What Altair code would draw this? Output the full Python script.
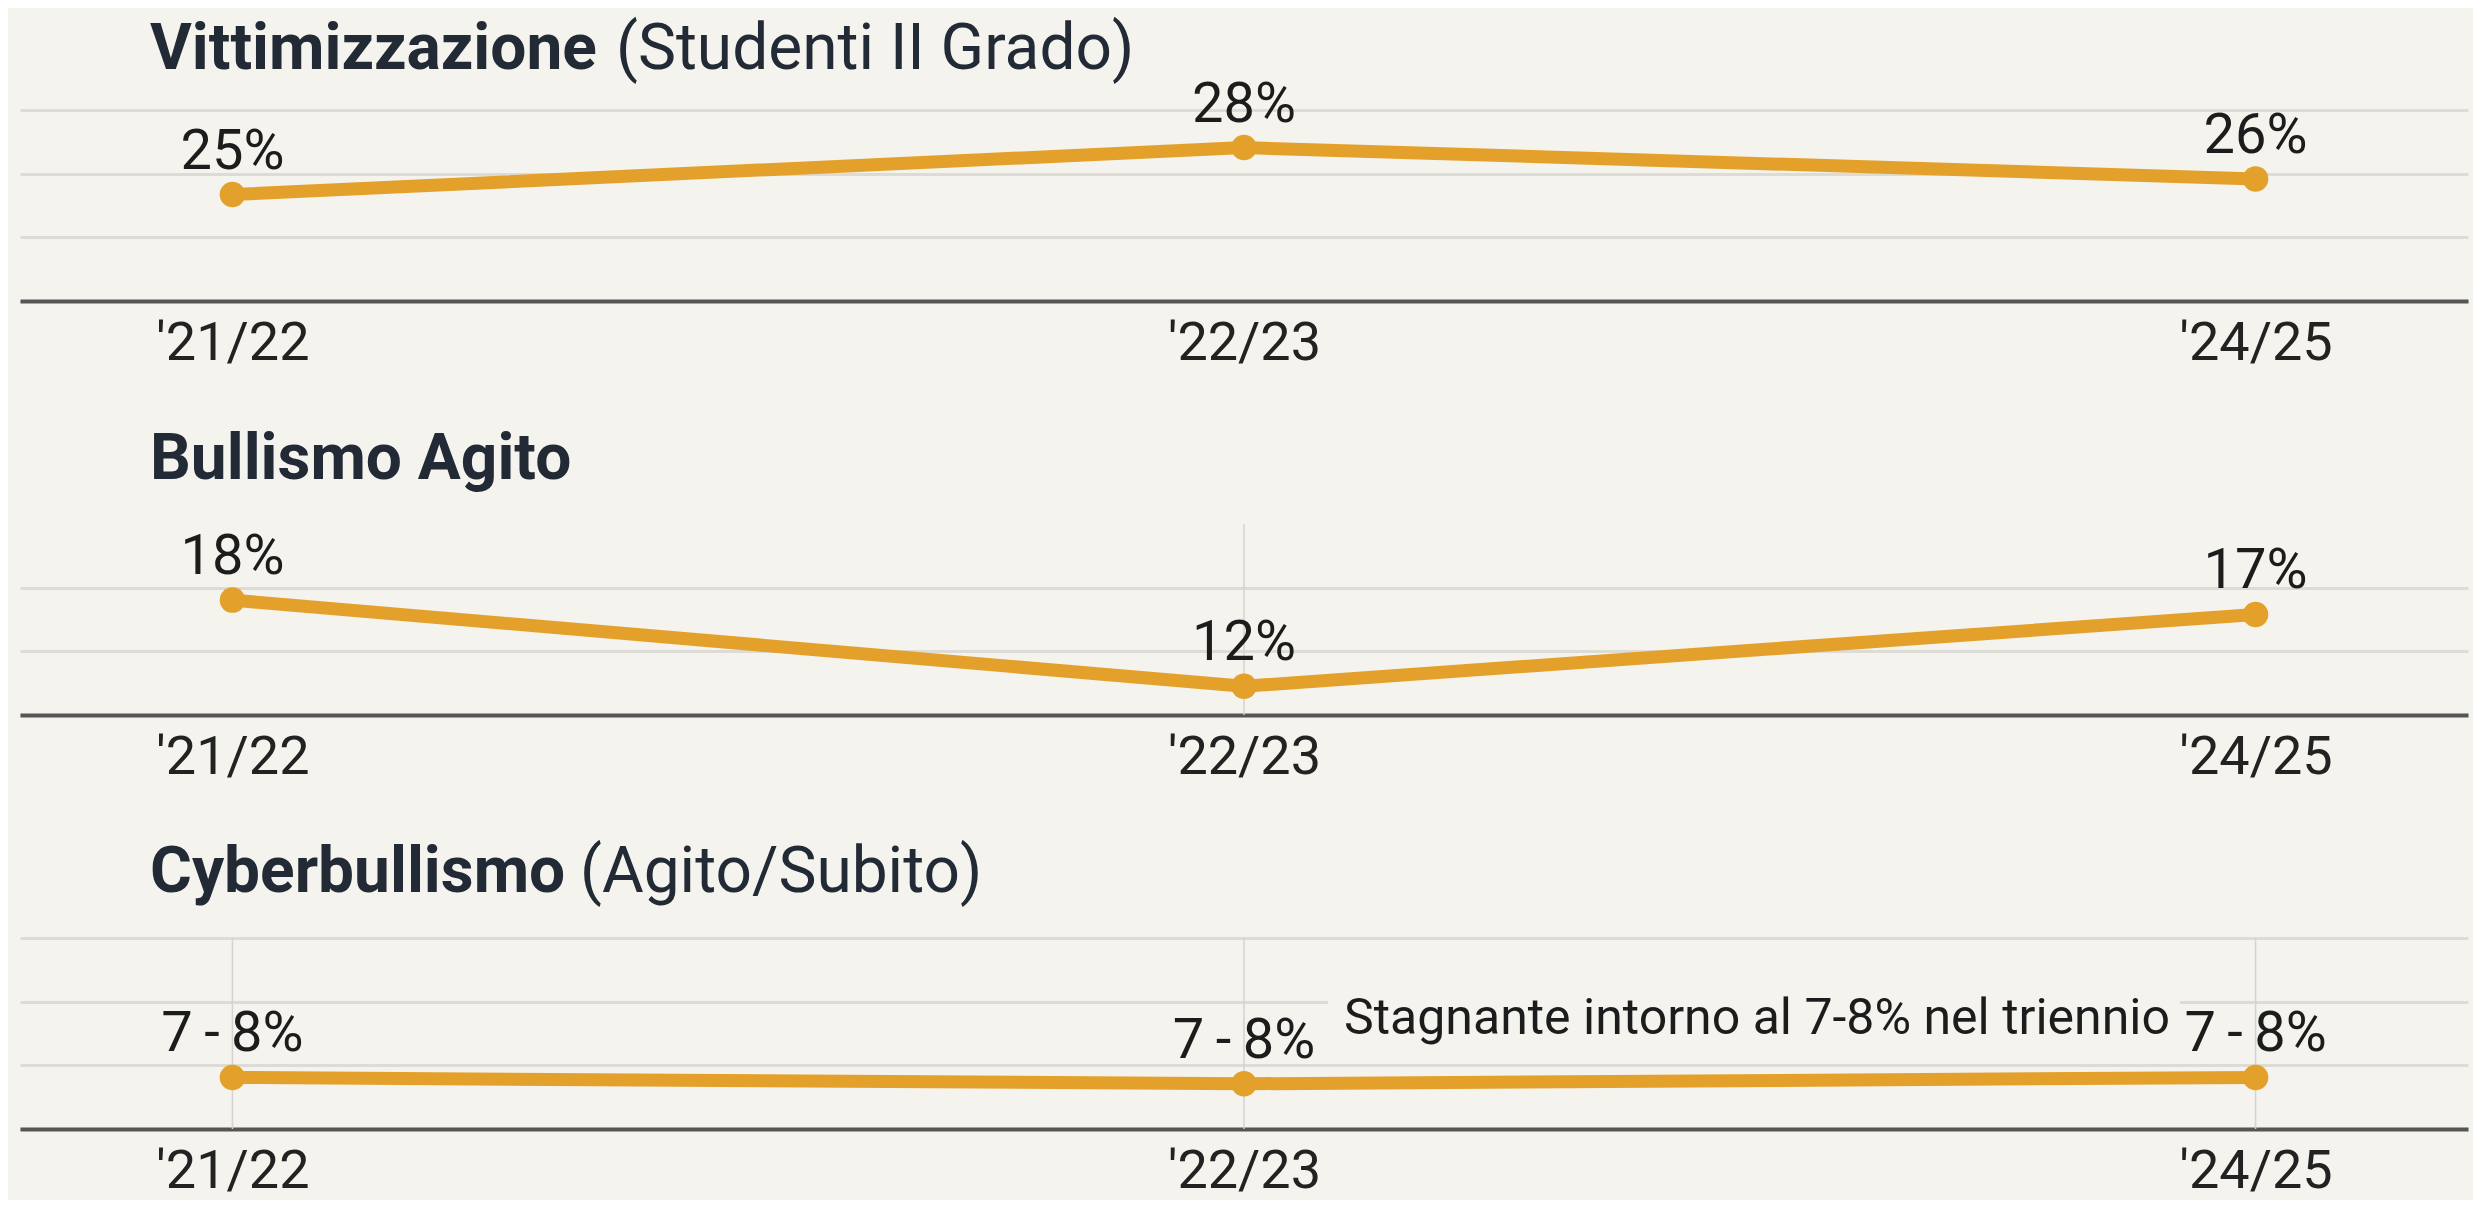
import altair as alt
import pandas as pd

# ---------------- data ----------------
YEARS = ["'21/22", "'22/23", "'24/25"]

VITT_VALUES = [25, 28, 26]
VITT_LABELS = ["25%", "28%", "26%"]

BULL_VALUES = [18, 12, 17]
BULL_LABELS = ["18%", "12%", "17%"]

CYBER_VALUES = [7.5, 7.1, 7.5]
CYBER_LABELS = ["7\u2009-\u20098%", "7\u2009-\u20098%", "7\u2009-\u20098%"]

TITLES_BOLD = ["Vittimizzazione", "Bullismo Agito", "Cyberbullismo"]
TITLES_REGULAR = ["(Studenti II Grado)", "", "(Agito/Subito)"]
NOTE_TEXT = "Stagnante intorno al 7-8% nel triennio"

GUIDES = [[], ["'22/23"], YEARS]
Y_DOMAINS = [[18.2, 30.4], [10.0, 23.3], [4.26, 16.26]]

# ---------------- style ----------------
W = 2448
H = 191
BG = "#f4f3ee"
GOLD = "#e3a12b"
FONT = "Roboto"
TITLE_COLOR = "#222a35"
TEXT_COLOR = "#1c1c1c"
TITLE_Y = [-41, -45, -46]
TITLE_REG_X = [596, 0, 560]


def x_def():
    return alt.X(
        "anno:N",
        sort=YEARS,
        scale=alt.Scale(type="point", padding=0.21),
        axis=alt.Axis(
            title=None, labelAngle=0, labelFontSize=54, labelFont=FONT,
            labelColor="#222222", labelPadding=15, ticks=False, tickSize=0,
            domain=True, domainColor="#555555", domainWidth=4, grid=False,
        ),
    )


def y_def(i):
    lo, hi = Y_DOMAINS[i]
    grid_vals = [lo + k * (hi - lo) / 3 for k in range(4)]
    return alt.Y(
        "valore:Q",
        scale=alt.Scale(domain=[lo, hi], nice=False, zero=False),
        axis=alt.Axis(
            title=None, labels=False, ticks=False, domain=False, grid=True,
            gridColor="#dcdbd5", gridWidth=3, values=grid_vals,
        ),
    )


def panel(i, values, labels):
    df = pd.DataFrame({"anno": YEARS, "valore": values, "etichetta": labels})
    base = alt.Chart(df).encode(x=x_def(), y=y_def(i))
    layers = []

    if GUIDES[i]:
        gdf = pd.DataFrame({"anno": GUIDES[i]})
        layers.append(
            alt.Chart(gdf)
            .mark_rule(color="#d4d3ce", strokeWidth=1.5)
            .encode(x=x_def(), y=alt.value(0), y2=alt.value(H))
        )

    if i == 2:
        # background box behind the annotation
        layers.append(
            alt.Chart(pd.DataFrame({"k": [0]}))
            .mark_rect(color=BG)
            .encode(x=alt.value(1308), x2=alt.value(2160), y=alt.value(45), y2=alt.value(108))
        )

    layers.append(base.mark_line(color=GOLD, strokeWidth=13, strokeCap="round", strokeJoin="round"))
    layers.append(base.mark_circle(color=GOLD, size=650, opacity=1))
    layers.append(
        base.mark_text(font=FONT, fontSize=56, color=TEXT_COLOR, dy=-26, baseline="alphabetic")
        .encode(text="etichetta:N")
    )

    if i == 2:
        ndf = pd.DataFrame({"anno": [YEARS[1]], "valore": [values[1]], "t": [NOTE_TEXT]})
        layers.append(
            alt.Chart(ndf)
            .mark_text(font=FONT, fontSize=50, color=TEXT_COLOR, align="left",
                       baseline="alphabetic", dx=100, dy=-50)
            .encode(x=x_def(), y=y_def(i), text="t:N")
        )

    tdf = pd.DataFrame({"t": [TITLES_BOLD[i]]})
    layers.append(
        alt.Chart(tdf)
        .mark_text(font=FONT, fontSize=64, fontWeight="bold", color=TITLE_COLOR,
                   align="left", baseline="alphabetic")
        .encode(text="t:N", x=alt.value(130), y=alt.value(TITLE_Y[i]))
    )
    if TITLES_REGULAR[i]:
        rdf = pd.DataFrame({"t": [TITLES_REGULAR[i]]})
        layers.append(
            alt.Chart(rdf)
            .mark_text(font=FONT, fontSize=64, fontWeight="normal", color=TITLE_COLOR,
                       align="left", baseline="alphabetic")
            .encode(text="t:N", x=alt.value(TITLE_REG_X[i]), y=alt.value(TITLE_Y[i]))
        )

    return alt.layer(*layers).properties(width=W, height=H)


p1 = panel(0, VITT_VALUES, VITT_LABELS)
p2 = panel(1, BULL_VALUES, BULL_LABELS)
p3 = panel(2, CYBER_VALUES, CYBER_LABELS)

chart = (
    alt.vconcat(p1, p2, p3, spacing=223, bounds="flush")
    .properties(padding={"left": 12, "top": 10, "right": 5, "bottom": 2})
    .configure(background=BG, font=FONT)
    .configure_view(strokeWidth=0)
)

chart.save("out.html", embed_options={"renderer": "svg", "actions": False})
